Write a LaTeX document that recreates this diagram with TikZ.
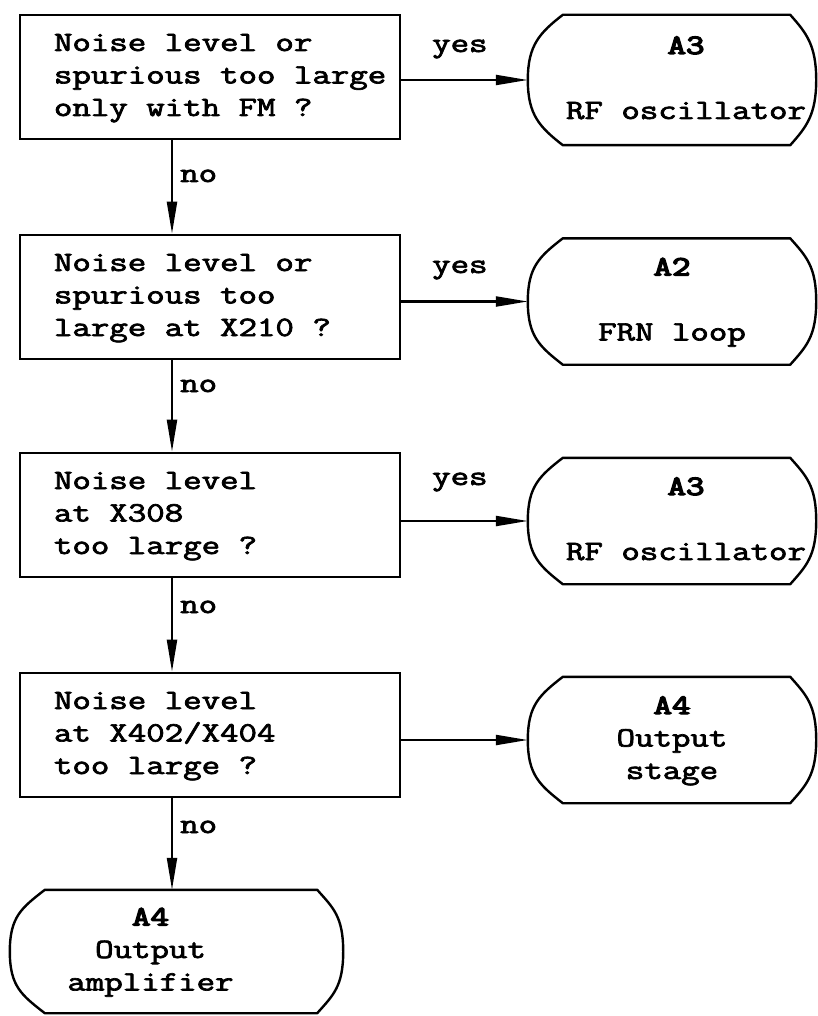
\documentclass[tikz,border=0pt]{standalone}
\usepackage{fontspec}
\usepackage{graphicx}
\newfontfamily\cour{Latin Modern Mono}[FakeBold=2.4]
\newfontfamily\courb{Latin Modern Mono}[FakeBold=4.5]
\usetikzlibrary{arrows.meta}
\newcommand\sx[1]{\scalebox{1.28}[1]{#1}}
\newcommand\ml[1]{\spaceskip=0pt\xspaceskip=0pt\sx{\begin{tabular}{@{}l@{}}#1\end{tabular}}}
\newcommand\mc[1]{\spaceskip=0pt\xspaceskip=0pt\sx{\begin{tabular}{@{}c@{}}#1\end{tabular}}}
\newcommand\monofont{\cour\fontsize{28}{32.5}\selectfont}
\newcommand\termshape[1]{%
  \draw[termline] ([xshift=35pt]#1.north west) -- ([xshift=-26pt]#1.north east)
    .. controls ([xshift=-10pt,yshift=-18pt]#1.north east) and ([yshift=35pt]#1.east) .. (#1.east)
    .. controls ([yshift=-35pt]#1.east) and ([xshift=-10pt,yshift=18pt]#1.south east) .. ([xshift=-26pt]#1.south east)
    -- ([xshift=35pt]#1.south west)
    .. controls ([xshift=12pt,yshift=18pt]#1.south west) and ([yshift=-35pt]#1.west) .. (#1.west)
    .. controls ([yshift=35pt]#1.west) and ([xshift=12pt,yshift=-18pt]#1.north west) .. ([xshift=35pt]#1.north west) -- cycle;}
\begin{document}
\begin{tikzpicture}[x=1pt,y=-1pt,
  every node/.style={font=\monofont},
  box/.style={draw, line width=2.6pt, minimum width=380pt, minimum height=124pt,
              inner xsep=34pt, inner ysep=0pt, text width=312pt, align=left},
  term/.style={minimum width=#1, minimum height=126pt, inner sep=0pt},
  lbl/.style={anchor=base west, inner sep=0pt},
  conn/.style={line width=2.2pt, -{Triangle[length=32pt,width=10pt]}},
  termline/.style={line width=2.4pt, line join=round}
]
\path[fill=white,use as bounding box] (0,0) rectangle (818,1016);

% decision boxes
\node[box] (b1) at (210,77)  {\ml{Noise level or\\spurious too large\\only with FM ?}};
\node[box] (b2) at (210,297) {\ml{Noise level or\\spurious too\\large at X210 ?}};
\node[box] (b3) at (210,515) {\ml{Noise level\\at X308\\too large ?}};
\node[box] (b4) at (210,735) {\ml{Noise level\\at X402/X404\\too large ?}};

% terminals
\node[term=288pt, minimum height=130pt] (t1) at (672,80) {\mc{\courb A3\\ \\RF oscillator}\hspace*{-28pt}};
\node[term=288pt] (t2) at (672,301.5) {\mc{\courb A2\\ \\FRN loop}};
\node[term=288pt] (t3) at (672,521) {\mc{\courb A3\\ \\RF oscillator}\hspace*{-28pt}};
\node[term=288pt] (t4) at (672,740) {\mc{\courb A4\\Output\\stage}};
\node[term=333pt, minimum height=123pt] (t5) at (176.5,951.5) {\hspace*{-52pt}\mc{\courb A4\\Output\\amplifier}};
\termshape{t1}
\termshape{t2}
\termshape{t3}
\termshape{t4}
\termshape{t5}

% connectors
\coordinate (vx) at (172,0);
\draw[conn] (b1.south -| vx) -- (b2.north -| vx);
\draw[conn] (b2.south -| vx) -- (b3.north -| vx);
\draw[conn] (b3.south -| vx) -- (b4.north -| vx);
\draw[conn] (b4.south -| vx) -- (t5.north -| vx);
\draw[conn] (t1.west -| b1.east) -- (t1.west);
\draw[conn] (t2.west -| b2.east) -- (t2.west);
\draw[conn] (t3.west -| b3.east) -- (t3.west);
\draw[conn] (t4.west -| b4.east) -- (t4.west);

% labels
\node[lbl] (yes1) at (432,52)  {\sx{yes}};
\node[lbl] (yes2) at (432,273) {\sx{yes}};
\node[lbl] (yes3) at (432,485) {\sx{yes}};
\node[lbl] (no1) at (180,182) {\sx{no}};
\node[lbl] (no2) at (180,392) {\sx{no}};
\node[lbl] (no3) at (180,613) {\sx{no}};
\node[lbl] (no4) at (180,833) {\sx{no}};
\end{tikzpicture}
\end{document}
